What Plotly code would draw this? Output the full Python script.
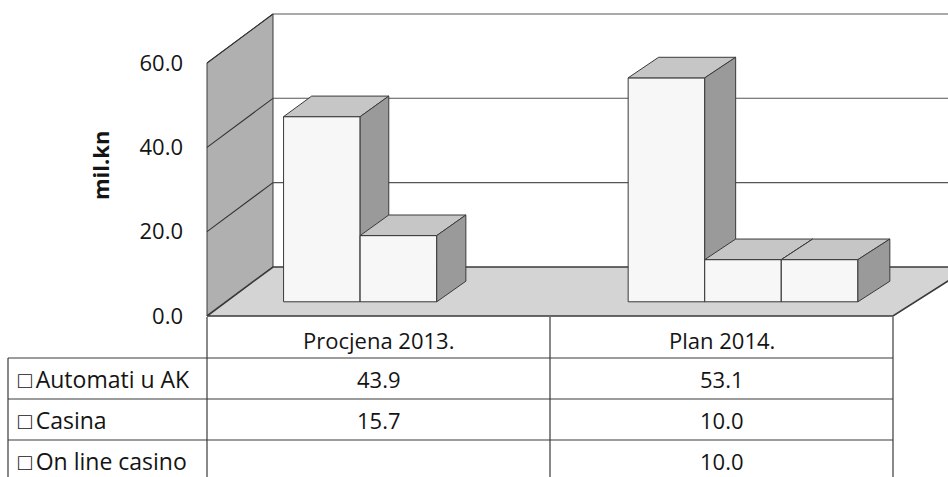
import plotly.graph_objects as go

# ---------------- data ----------------
CATEGORIES = ["Procjena 2013.", "Plan 2014."]
SERIES_NAMES = ["Automati u AK", "Casina", "On line casino"]
AUTOMATI = [43.9, 53.1]
CASINA = [15.7, 10.0]
ONLINE = [None, 10.0]
SERIES_VALUES = [AUTOMATI, CASINA, ONLINE]
Y_TICKS = [0, 20, 40, 60]
Y_TITLE = "mil.kn"

# ---------------- geometry / style ----------------
W, H = 948, 477
PX_PER_CAT = 343.0
PX_PER_UNIT = 4.217
FRONT_LEFT_PX = 207.0
FRONT_BASE_PX = 316.0
X_RANGE = [(0 - FRONT_LEFT_PX) / PX_PER_CAT - 0.5, (W - FRONT_LEFT_PX) / PX_PER_CAT - 0.5]
Y_RANGE = [(FRONT_BASE_PX - H) / PX_PER_UNIT, FRONT_BASE_PX / PX_PER_UNIT]

DX0 = 66.0 / PX_PER_CAT          # full-depth x offset at the left end
DX_SLOPE = 11.0 / 686.0          # growth of the offset to the right
DY = 49.0 / PX_PER_UNIT          # full-depth y offset (value units)

BAR_D0, BAR_D1 = 0.29, 0.71
N_SLOTS = len(SERIES_NAMES)
GAP = 1.5
SLOT_W = 1.0 / (N_SLOTS + GAP)
WALL_TOP = max(Y_TICKS)

EDGE = "#3a3a3a"
LEFT_WALL = "#b0b0b0"
FLOOR = "#d4d4d4"
BAR_FRONT = "#f7f7f7"
BAR_TOP = "#c6c6c6"
BAR_SIDE = "#9a9a9a"
FONT = "Open Sans"
TXT = "#141414"


def proj(xc, v, d):
    return xc + d * (DX0 + (xc + 0.5) * DX_SLOPE), v + d * DY


fig = go.Figure()


def poly(points, fill, lw=1.0, color=EDGE):
    xs, ys = [], []
    for (xc, v, d) in points + [points[0]]:
        px, py_ = proj(xc, v, d)
        xs.append(px)
        ys.append(py_)
    fig.add_trace(go.Scatter(x=xs, y=ys, mode="lines", fill="toself", fillcolor=fill,
                             line=dict(color=color, width=lw), hoverinfo="skip",
                             showlegend=False))


def seg(p0, p1, lw=1.0, color=EDGE):
    a = proj(*p0)
    b = proj(*p1)
    fig.add_trace(go.Scatter(x=[a[0], b[0]], y=[a[1], b[1]], mode="lines",
                             line=dict(color=color, width=lw), hoverinfo="skip",
                             showlegend=False))


x_lo, x_hi = -0.5, len(CATEGORIES) - 0.5

# back wall
poly([(x_lo, 0, 1), (x_hi, 0, 1), (x_hi, WALL_TOP, 1), (x_lo, WALL_TOP, 1)], "#ffffff", lw=0.01, color="#ffffff")
# left wall
poly([(x_lo, 0, 0), (x_lo, WALL_TOP, 0), (x_lo, WALL_TOP, 1), (x_lo, 0, 1)], LEFT_WALL)
# floor
poly([(x_lo, 0, 0), (x_hi, 0, 0), (x_hi, 0, 1), (x_lo, 0, 1)], FLOOR, lw=1.6)
# gridlines
for g in Y_TICKS[1:]:
    seg((x_lo, g, 1), (x_hi, g, 1), lw=1.1, color="#555555")
    seg((x_lo, g, 0), (x_lo, g, 1), lw=1.1, color="#333333")

# bars
for c in range(len(CATEGORIES)):
    for s in range(N_SLOTS):
        v = SERIES_VALUES[s][c]
        if v is None:
            continue
        x0 = c - (N_SLOTS / 2.0) * SLOT_W + s * SLOT_W
        x1 = x0 + SLOT_W
        poly([(x0, 0, BAR_D0), (x1, 0, BAR_D0), (x1, v, BAR_D0), (x0, v, BAR_D0)], BAR_FRONT)
        poly([(x0, v, BAR_D0), (x1, v, BAR_D0), (x1, v, BAR_D1), (x0, v, BAR_D1)], BAR_TOP)
        poly([(x1, 0, BAR_D0), (x1, 0, BAR_D1), (x1, v, BAR_D1), (x1, v, BAR_D0)], BAR_SIDE)

# ---------------- data table ----------------
ROW_H = 41.0
HEADER_TOP = FRONT_BASE_PX + 1
TABLE_LEFT_PX = 8.0


def py(px):
    return 1 - px / H


shapes = []
row_tops = [HEADER_TOP + ROW_H * (i + 1) for i in range(len(SERIES_NAMES))]
for yt in row_tops:
    shapes.append(dict(type="line", xref="paper", yref="paper",
                       x0=TABLE_LEFT_PX / W, x1=(FRONT_LEFT_PX + PX_PER_CAT * len(CATEGORIES)) / W,
                       y0=py(yt), y1=py(yt), line=dict(color=EDGE, width=1.2)))
for k in range(len(CATEGORIES) + 1):
    xe = x_lo + k
    shapes.append(dict(type="line", xref="x", yref="paper", x0=xe, x1=xe,
                       y0=py(HEADER_TOP), y1=0, line=dict(color=EDGE, width=1.2)))
shapes.append(dict(type="line", xref="paper", yref="paper", x0=TABLE_LEFT_PX / W, x1=TABLE_LEFT_PX / W,
                   y0=py(row_tops[0]), y1=0, line=dict(color=EDGE, width=1.2)))

annotations = []
for c, name in enumerate(CATEGORIES):
    annotations.append(dict(x=c, y=py(HEADER_TOP + ROW_H / 2 + 2), xref="x", yref="paper",
                            text=name, showarrow=False, xanchor="center", yanchor="middle",
                            font=dict(family=FONT, size=22, color=TXT)))
for s, name in enumerate(SERIES_NAMES):
    yc = row_tops[s] + ROW_H / 2
    annotations.append(dict(x=(TABLE_LEFT_PX + 8) / W, y=py(yc), xref="paper", yref="paper",
                            text="\u25a1\u2009" + name, showarrow=False, xanchor="left", yanchor="middle",
                            font=dict(family=FONT, size=23, color=TXT)))
    for c in range(len(CATEGORIES)):
        v = SERIES_VALUES[s][c]
        if v is None:
            continue
        annotations.append(dict(x=c, y=py(yc), xref="x", yref="paper",
                                text=f"{v:.1f}", showarrow=False, xanchor="center", yanchor="middle",
                                font=dict(family=FONT, size=22, color=TXT)))

annotations.append(dict(x=100 / W, y=py(166), xref="paper", yref="paper", text="<b>" + Y_TITLE + "</b>",
                        textangle=-90, showarrow=False, xanchor="center", yanchor="middle",
                        font=dict(family=FONT, size=22, color=TXT)))

fig.update_layout(
    width=W, height=H,
    margin=dict(l=0, r=0, t=0, b=0),
    paper_bgcolor="white", plot_bgcolor="white",
    xaxis=dict(range=X_RANGE, visible=False, fixedrange=True),
    yaxis=dict(range=Y_RANGE, anchor="free", position=FRONT_LEFT_PX / W,
               tickvals=Y_TICKS, tickformat=".1f", showgrid=False, zeroline=False,
               showline=False, ticks="", ticklabelstandoff=24,
               tickfont=dict(family=FONT, size=22, color=TXT), fixedrange=True),
    shapes=shapes,
    annotations=annotations,
    showlegend=False,
)

fig.write_html("out.html", config={"displayModeBar": False},
               post_script="document.body.style.margin='0';")
